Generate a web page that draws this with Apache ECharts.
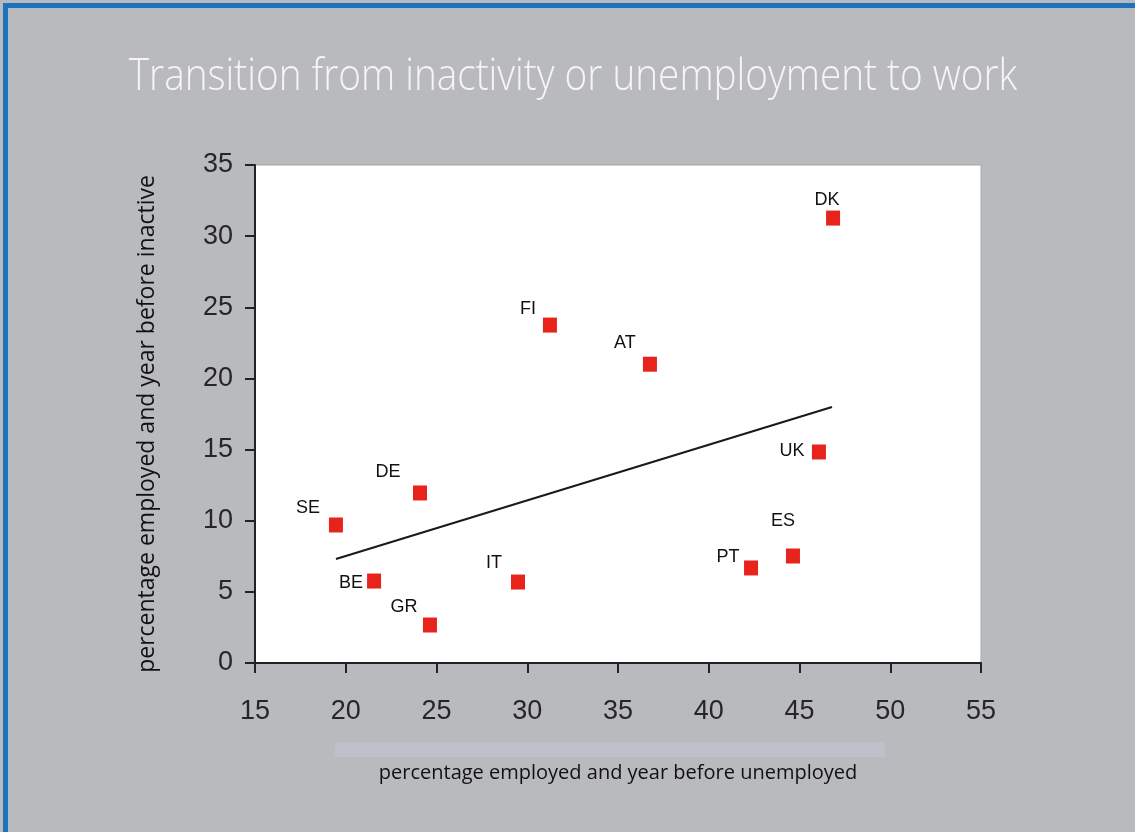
<!DOCTYPE html>
<html>
<head>
<meta charset="utf-8">
<script src="https://cdn.jsdelivr.net/npm/echarts@6/dist/echarts.min.js"></script>
<style>
  html, body { margin: 0; padding: 0; background: #b9babd; }
  #chart { width: 1135px; height: 832px; }
</style>
</head>
<body>
<div id="chart"></div>
<script>
// ---- data ----
const titleText = 'Transition from inactivity or unemployment to work';
const xAxisTitle = 'percentage employed and year before unemployed';
const yAxisTitle = 'percentage employed and year before inactive';
const countries = ['DK', 'FI', 'AT', 'UK', 'ES', 'PT', 'DE', 'SE', 'BE', 'GR', 'IT'];
const employedAfterUnemployed = [46.85, 31.25, 36.76, 46.07, 44.64, 42.33, 24.09, 19.46, 21.56, 24.64, 29.49];
const employedAfterInactive   = [31.27, 23.75, 21.0, 14.83, 7.52, 6.68, 11.95, 9.7, 5.76, 2.67, 5.69];
const trendX = [19.46, 46.79];
const trendY = [7.31, 17.99];
const xTicks = [15, 20, 25, 30, 35, 40, 45, 50, 55];
const yTicks = [0, 5, 10, 15, 20, 25, 30, 35];

// ---- label placement (style only) ----
const LABEL_OFFSETS = {
  DK: [-6, -18], FI: [-22, -16], AT: [-25, -21], UK: [-27, -1], ES: [-10, -35],
  PT: [-23, -11], DE: [-32, -21], SE: [-28, -17], BE: [-23, 2], GR: [-26, -18], IT: [-24, -19]
};

const points = countries.map((c, i) => ({
  name: c,
  value: [employedAfterUnemployed[i], employedAfterInactive[i]],
  label: { offset: LABEL_OFFSETS[c] }
}));
const trend = trendX.map((x, i) => [x, trendY[i]]);

const chart = echarts.init(document.getElementById('chart'), null, { renderer: 'canvas' });
const tickFont = { fontFamily: '"Liberation Sans", Arial, sans-serif', fontSize: 27, color: '#262626' };

chart.setOption({
  backgroundColor: '#b9babd',
  animation: false,
  graphic: [
    { type: 'rect', shape: { x: 3, y: 3, width: 1132, height: 5 }, style: { fill: '#1b73be' }, z: 100 },
    { type: 'rect', shape: { x: 3, y: 3, width: 5, height: 829 }, style: { fill: '#1b73be' }, z: 100 },
    { type: 'rect', shape: { x: 335, y: 742, width: 550, height: 15 }, style: { fill: '#bfc1ca' }, z: -1 },
    {
      type: 'text', x: 573, y: 77, scaleX: 0.86, z: 50,
      style: {
        text: titleText, align: 'center', verticalAlign: 'middle',
        fill: '#f7f5f2', fontFamily: '"Open Sans", sans-serif', fontWeight: 300, fontSize: 45
      }
    }
  ],
  grid: {
    left: 255, top: 165, width: 726, height: 498,
    show: true, backgroundColor: '#ffffff', borderColor: '#a6a7aa', borderWidth: 1
  },
  xAxis: {
    type: 'value', min: xTicks[0], max: xTicks[xTicks.length - 1], interval: 5,
    name: xAxisTitle,
    nameLocation: 'middle', nameGap: 100,
    nameTextStyle: { fontFamily: '"Open Sans", sans-serif', fontSize: 20, color: '#111' },
    axisLine: { show: true, lineStyle: { color: '#222', width: 2 } },
    axisTick: { show: true, length: 10, lineStyle: { color: '#222', width: 2 } },
    axisLabel: Object.assign({ margin: 35 }, tickFont),
    splitLine: { show: false }
  },
  yAxis: {
    type: 'value', min: yTicks[0], max: yTicks[yTicks.length - 1], interval: 5,
    name: yAxisTitle,
    nameLocation: 'middle', nameGap: 96, nameRotate: 90,
    nameTextStyle: { fontFamily: '"Open Sans", sans-serif', fontSize: 23, color: '#111', padding: [0, 20, 0, 0] },
    axisLine: { show: true, lineStyle: { color: '#222', width: 2 } },
    axisTick: { show: true, length: 10, lineStyle: { color: '#222', width: 2 } },
    axisLabel: Object.assign({ margin: 22 }, tickFont),
    splitLine: { show: false }
  },
  series: [
    {
      type: 'line',
      data: trend,
      symbol: 'none',
      lineStyle: { color: '#1a1a1a', width: 2.2 },
      z: 2
    },
    {
      type: 'scatter',
      data: points,
      symbol: 'rect',
      symbolSize: [14, 15],
      itemStyle: { color: '#e8231c', opacity: 1 },
      label: {
        show: true,
        position: 'inside',
        formatter: '{b}',
        fontFamily: '"Liberation Sans", Arial, sans-serif',
        fontSize: 18,
        color: '#111'
      },
      z: 3
    }
  ]
});
</script>
</body>
</html>
